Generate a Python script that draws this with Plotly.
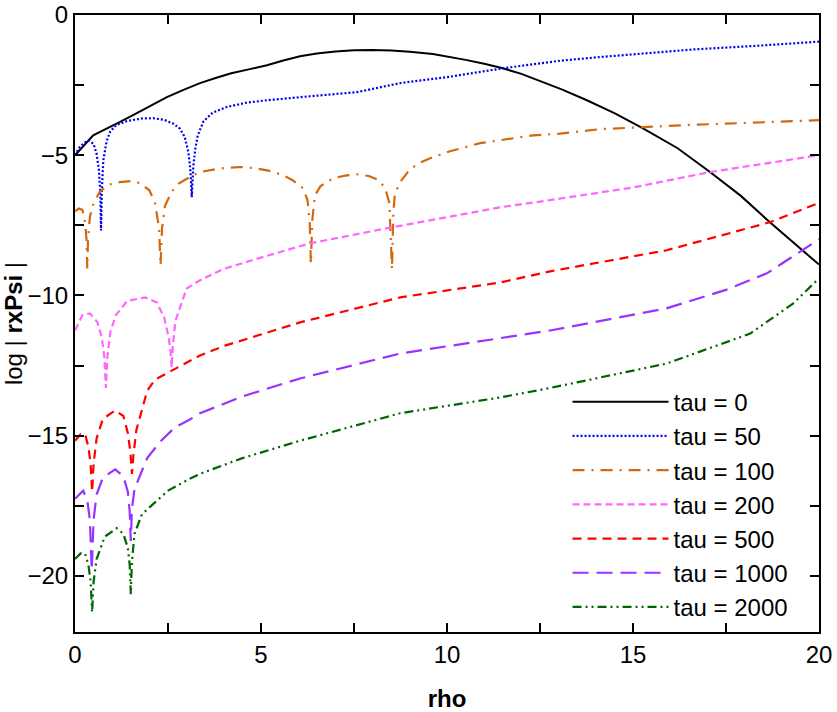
import plotly.graph_objects as go

# ---- data ----
x_tau0 = [0, 0.1, 0.22, 0.35, 0.49, 0.7, 0.94, 1.2, 1.56, 2.0, 2.47, 2.9, 3.36, 3.8, 4.2, 4.7, 5.16, 5.6, 6.05,
          6.5, 7.0, 7.5, 8.0, 8.5, 9.0, 9.62, 10.0, 10.5, 11.0, 11.5, 12.0, 12.5, 13.1, 13.76, 14.5, 15.27, 16.2,
          17.07, 17.9, 18.68, 19.4, 20]
y_tau0 = [-5.0, -4.85, -4.7, -4.48, -4.29, -4.15, -4.0, -3.82, -3.57, -3.25, -2.93, -2.68, -2.43, -2.24, -2.08,
          -1.93, -1.79, -1.62, -1.47, -1.37, -1.3, -1.26, -1.25, -1.27, -1.31, -1.39, -1.47, -1.6, -1.74, -1.9,
          -2.1, -2.35, -2.66, -3.04, -3.5, -4.04, -4.75, -5.6, -6.45, -7.39, -8.2, -8.9]

x_tau50 = [0, 0.1, 0.25, 0.38, 0.5, 0.58, 0.64, 0.68, 0.7, 0.72, 0.76, 0.85, 0.95, 1.1, 1.4, 1.8, 2.1, 2.4, 2.65,
           2.82, 2.95, 3.05, 3.1, 3.14, 3.18, 3.23, 3.3, 3.45, 3.7, 4.08, 4.6, 5.16, 6.05, 6.8, 7.58, 8.74, 10.08,
           11.5, 13.04, 14.11, 15.5, 16.6, 18.3, 20]
y_tau50 = [-5.0, -4.75, -4.55, -4.48, -4.6, -4.95, -5.5, -6.3, -7.68, -6.3, -5.2, -4.5, -4.15, -3.93, -3.78,
           -3.69, -3.68, -3.74, -3.88, -4.05, -4.35, -4.9, -5.5, -6.5, -5.4, -4.8, -4.3, -3.8, -3.48, -3.28,
           -3.13, -3.04, -2.93, -2.85, -2.75, -2.43, -2.2, -1.9, -1.63, -1.5, -1.35, -1.23, -1.1, -0.95]

x_tau100 = [0, 0.1, 0.2, 0.27, 0.31, 0.33, 0.35, 0.4, 0.5, 0.67, 0.9, 1.2, 1.5, 1.75, 2.0, 2.15, 2.26, 2.3, 2.34,
            2.42, 2.6, 2.8, 3.09, 3.36, 3.9, 4.44, 4.84, 5.2, 5.6, 5.86, 6.13, 6.25, 6.31, 6.34, 6.38, 6.45,
            6.6, 6.94, 7.3, 7.58, 7.9, 8.12, 8.33, 8.45, 8.52, 8.56, 8.6, 8.74, 9.0, 9.3, 9.62, 10.08, 10.89,
            11.42, 12.31, 13.04, 14.11, 15.27, 16.5, 18.0, 20]
y_tau100 = [-7.0, -6.9, -6.95, -7.4, -8.0, -9.04, -8.0, -7.2, -6.7, -6.3, -6.05, -5.96, -5.92, -5.99, -6.25,
            -6.7, -7.6, -8.93, -7.6, -6.8, -6.3, -6.0, -5.77, -5.6, -5.47, -5.42, -5.46, -5.55, -5.71, -5.9,
            -6.18, -6.6, -7.4, -8.86, -7.3, -6.43, -6.1, -5.82, -5.72, -5.68, -5.74, -5.86, -6.14, -6.7, -9.07,
            -7.0, -6.37, -5.96, -5.5, -5.25, -5.07, -4.86, -4.57, -4.46, -4.29, -4.23, -4.07, -4.0, -3.92,
            -3.85, -3.75]

x_tau200 = [0, 0.2, 0.4, 0.6, 0.72, 0.79, 0.83, 0.87, 0.95, 1.1, 1.4, 1.88, 2.2, 2.4, 2.52, 2.57, 2.6, 2.63,
            2.7, 2.88, 3.0, 3.36, 4.0, 5.0, 6.32, 8.52, 10.0, 11.42, 12.77, 15.0, 17.07, 18.5, 20]
y_tau200 = [-11.25, -10.7, -10.64, -10.95, -11.5, -12.2, -13.3, -12.2, -11.3, -10.7, -10.2, -10.07, -10.25,
            -10.8, -11.5, -12.0, -12.57, -11.8, -10.9, -10.18, -9.75, -9.46, -9.05, -8.65, -8.14, -7.57, -7.2,
            -6.86, -6.6, -6.15, -5.6, -5.3, -5.0]

x_tau500 = [0, 0.15, 0.27, 0.36, 0.42, 0.46, 0.5, 0.58, 0.75, 1.08, 1.3, 1.42, 1.49, 1.53, 1.57, 1.65, 1.94,
            2.15, 2.6, 3.36, 4.03, 6.05, 8.74, 11.42, 12.77, 15.9, 18.68, 20]
y_tau500 = [-15.18, -14.95, -14.93, -15.4, -16.0, -17.0, -16.0, -15.1, -14.4, -14.1, -14.3, -14.9, -15.6,
            -16.36, -15.7, -14.8, -13.4, -13.0, -12.68, -12.14, -11.79, -10.96, -10.07, -9.54, -9.14, -8.39,
            -7.39, -6.7]

x_tau1000 = [0, 0.22, 0.33, 0.4, 0.45, 0.5, 0.58, 0.75, 1.08, 1.3, 1.42, 1.47, 1.5, 1.53, 1.6, 1.94, 2.3, 2.69,
             3.04, 3.36, 4.5, 6.05, 8.74, 11.42, 12.77, 15.9, 17.5, 18.6, 20]
y_tau1000 = [-17.25, -16.96, -17.3, -18.0, -19.8, -18.0, -17.1, -16.5, -16.2, -16.45, -17.0, -17.7, -18.75,
             -17.6, -16.9, -15.8, -15.2, -14.7, -14.46, -14.2, -13.6, -12.96, -12.07, -11.54, -11.25, -10.46,
             -9.8, -9.21, -8.0]

x_tau2000 = [0, 0.15, 0.27, 0.36, 0.42, 0.46, 0.5, 0.58, 0.8, 1.12, 1.3, 1.42, 1.47, 1.5, 1.53, 1.6, 1.8, 2.5,
             3.14, 3.36, 4.5, 6.05, 8.74, 11.42, 12.77, 15.9, 18.15, 19.3, 20]
y_tau2000 = [-19.4, -19.2, -19.2, -19.6, -20.2, -21.3, -20.2, -19.4, -18.6, -18.3, -18.5, -19.0, -19.6, -20.65,
             -19.5, -18.5, -17.8, -16.96, -16.5, -16.36, -15.8, -15.18, -14.2, -13.64, -13.3, -12.43, -11.36,
             -10.29, -9.39]

names = ["tau = 0", "tau = 50", "tau = 100", "tau = 200", "tau = 500", "tau = 1000", "tau = 2000"]
xs = [x_tau0, x_tau50, x_tau100, x_tau200, x_tau500, x_tau1000, x_tau2000]
ys = [y_tau0, y_tau50, y_tau100, y_tau200, y_tau500, y_tau1000, y_tau2000]
colors = ["#000000", "#0000ee", "#d2690e", "#ff66ff", "#ff0000", "#9933ff", "#006400"]
dashes = ["solid", "2px,2px", "12px,7px,2px,7px", "7px,4px", "9px,6px", "16px,8px", "9px,4px,2px,4px,2px,4px"]
widths = [2, 2.2, 2.2, 2.2, 2.2, 2.2, 2.2]

fig = go.Figure()
for x, y, n, c, d, w in zip(xs, ys, names, colors, dashes, widths):
    fig.add_trace(go.Scatter(x=x, y=y, name=n, mode="lines",
                             line=dict(color=c, dash=d, width=w)))

font = "Liberation Sans, Arial, Helvetica, sans-serif"
axis_common = dict(
    showline=True, linecolor="black", linewidth=2, mirror="ticks",
    ticks="inside", ticklen=9, tickwidth=2, tickcolor="black",
    showgrid=False, zeroline=False, automargin=False,
    tickfont=dict(family=font, size=24, color="black"),
)
fig.update_xaxes(range=[0, 20], dtick=5, tick0=0,
                 minor=dict(dtick=2.5, ticks="inside", ticklen=9, tickwidth=2, tickcolor="black", showgrid=False),
                 title=dict(text="<b>rho</b>", font=dict(family=font, size=24, color="black"), standoff=32),
                 **axis_common)
fig.update_yaxes(range=[-22, 0], dtick=5, tick0=0,
                 minor=dict(dtick=2.5, ticks="inside", ticklen=9, tickwidth=2, tickcolor="black", showgrid=False),
                 title=dict(text="log | <b>rxPsi</b> |", font=dict(family=font, size=24, color="black"), standoff=6),
                 **axis_common)

fig.update_layout(
    width=837, height=712,
    margin=dict(l=75, r=18, t=15, b=80),
    plot_bgcolor="white", paper_bgcolor="white",
    font=dict(family=font, size=24, color="black"),
    legend=dict(x=0.662, y=0.409, xanchor="left", yanchor="top",
                bgcolor="rgba(0,0,0,0)", borderwidth=0,
                font=dict(family=font, size=24, color="black"),
                itemwidth=96, tracegroupgap=0),
    showlegend=True,
)

fig.write_html("out.html")
